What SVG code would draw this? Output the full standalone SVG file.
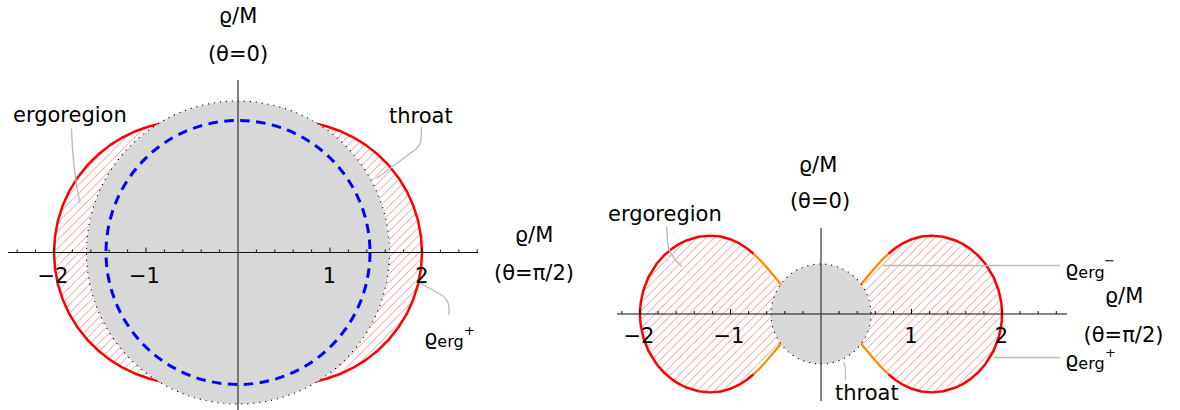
<svg xmlns="http://www.w3.org/2000/svg" width="1180" height="410" viewBox="0 0 1180 410">
<defs>
<pattern id="hatch" patternUnits="userSpaceOnUse" width="8.5" height="8.5">
<path d="M-1,1 L1,-1 M0,8.5 L8.5,0 M7.5,9.5 L9.5,7.5" stroke="#ee7878" stroke-width="0.8" fill="none"/>
</pattern>
<style>
.lbl{font-family:"DejaVu Sans","Liberation Sans",sans-serif;font-size:21px;fill:#000}
.mid{text-anchor:middle}
.sub{font-size:16px}
.sup{font-size:13px}
.axis{stroke:#111;stroke-width:1.2;fill:none}
.vaxis{stroke:#333;stroke-width:1.2;fill:none}
.tick{stroke:#111;stroke-width:1;fill:none}
.throat{fill:#d8d8d8}
.dots{fill:none;stroke:#000;stroke-width:1.3;stroke-linecap:round;stroke-dasharray:0 6}
.red{fill:none;stroke:#ff0000;stroke-width:2.5;stroke-linejoin:round}
.orange{fill:none;stroke:#ff8a00;stroke-width:2.2;stroke-linejoin:round}
.lead{fill:none;stroke:#b9b9b9;stroke-width:1.3}
</style>
</defs>
<rect width="1180" height="410" fill="#fff"/>

<g id="left-plot">
<path id="left-ergoregion" fill="url(#hatch)" stroke="none" d="M238,120.4 L249.57,120.26 L261.37,119.93 L273.58,119.72 L286.26,119.92 L299.37,120.89 L312.82,122.91 L326.42,126.22 L339.97,130.97 L353.24,137.26 L365.96,145.13 L377.91,154.53 L388.83,165.42 L398.49,177.66 L406.7,191.1 L413.29,205.53 L418.09,220.74 L421.01,236.49 L422,252.5 L421.01,268.51 L418.09,284.26 L413.29,299.47 L406.7,313.9 L398.49,327.34 L388.83,339.58 L377.91,350.47 L365.96,359.87 L353.24,367.74 L339.97,374.03 L326.42,378.78 L312.82,382.09 L299.37,384.11 L286.26,385.08 L273.58,385.28 L261.37,385.07 L249.57,384.74 L238,384.6 L226.43,384.74 L214.63,385.07 L202.42,385.28 L189.74,385.08 L176.63,384.11 L163.18,382.09 L149.58,378.78 L136.03,374.03 L122.76,367.74 L110.04,359.87 L98.09,350.47 L87.17,339.58 L77.51,327.34 L69.3,313.9 L62.71,299.47 L57.91,284.26 L54.99,268.51 L54,252.5 L54.99,236.49 L57.91,220.74 L62.71,205.53 L69.3,191.1 L77.51,177.66 L87.17,165.42 L98.09,154.53 L110.04,145.13 L122.76,137.26 L136.03,130.97 L149.58,126.22 L163.18,122.91 L176.63,120.89 L189.74,119.92 L202.42,119.72 L214.63,119.93 L226.43,120.26 Z"/>
<path class="red" d="M238,120.4 L249.57,120.26 L261.37,119.93 L273.58,119.72 L286.26,119.92 L299.37,120.89 L312.82,122.91 L326.42,126.22 L339.97,130.97 L353.24,137.26 L365.96,145.13 L377.91,154.53 L388.83,165.42 L398.49,177.66 L406.7,191.1 L413.29,205.53 L418.09,220.74 L421.01,236.49 L422,252.5 L421.01,268.51 L418.09,284.26 L413.29,299.47 L406.7,313.9 L398.49,327.34 L388.83,339.58 L377.91,350.47 L365.96,359.87 L353.24,367.74 L339.97,374.03 L326.42,378.78 L312.82,382.09 L299.37,384.11 L286.26,385.08 L273.58,385.28 L261.37,385.07 L249.57,384.74 L238,384.6 L226.43,384.74 L214.63,385.07 L202.42,385.28 L189.74,385.08 L176.63,384.11 L163.18,382.09 L149.58,378.78 L136.03,374.03 L122.76,367.74 L110.04,359.87 L98.09,350.47 L87.17,339.58 L77.51,327.34 L69.3,313.9 L62.71,299.47 L57.91,284.26 L54.99,268.51 L54,252.5 L54.99,236.49 L57.91,220.74 L62.71,205.53 L69.3,191.1 L77.51,177.66 L87.17,165.42 L98.09,154.53 L110.04,145.13 L122.76,137.26 L136.03,130.97 L149.58,126.22 L163.18,122.91 L176.63,120.89 L189.74,119.92 L202.42,119.72 L214.63,119.93 L226.43,120.26 Z"/>
<circle id="left-throat" class="throat" cx="238" cy="252.5" r="151.5"/>
<circle class="dots" cx="238" cy="252.5" r="151.5"/>
<circle id="left-horizon" cx="238" cy="252.5" r="132" fill="none" stroke="#0000ff" stroke-width="3" stroke-dasharray="9.5 6.5"/>
<line class="axis" x1="8" y1="252.5" x2="478" y2="252.5"/>
<line class="vaxis" x1="238" y1="80" x2="238" y2="410"/>
<path class="tick" d="M17.2,252.5v-3 M35.6,252.5v-3 M54,252.5v-5 M72.4,252.5v-3 M90.8,252.5v-3 M109.2,252.5v-3 M127.6,252.5v-3 M146,252.5v-5 M164.4,252.5v-3 M182.8,252.5v-3 M201.2,252.5v-3 M219.6,252.5v-3 M256.4,252.5v-3 M274.8,252.5v-3 M293.2,252.5v-3 M311.6,252.5v-3 M330,252.5v-5 M348.4,252.5v-3 M366.8,252.5v-3 M385.2,252.5v-3 M403.6,252.5v-3 M422,252.5v-5 M440.4,252.5v-3 M458.8,252.5v-3 M477.2,252.5v-3"/>
<text class="lbl mid" x="53" y="282.5">−2</text>
<text class="lbl mid" x="144.5" y="282.5">−1</text>
<text class="lbl mid" x="329.5" y="282.5">1</text>
<text class="lbl mid" x="422" y="282.5">2</text>
<text class="lbl mid" x="238" y="23">ϱ/M</text>
<text class="lbl mid" x="238" y="60.5">(θ=0)</text>
<text class="lbl mid" x="534" y="242">ϱ/M</text>
<text class="lbl mid" x="534" y="280">(θ=π/2)</text>
<text class="lbl" x="13" y="121.5">ergoregion</text>
<text class="lbl" x="389" y="123">throat</text>
<text class="lbl" x="424" y="345">ϱ<tspan class="sub" dy="2">erg</tspan><tspan class="sup" x="464" y="334.5">+</tspan></text>
</g>

<g id="right-plot">
<path id="right-lobe-fill" fill="url(#hatch)" stroke="none" d="M821,314 L829.66,311.37 L837.59,306.76 L844.88,301.07 L851.62,294.69 L857.95,287.87 L863.98,280.82 L869.89,273.71 L875.82,266.71 L881.95,259.97 L888.46,253.67 L895.5,247.97 L903.23,243.06 L911.79,239.18 L921.3,236.58 L931.84,235.62 L943.49,236.77 L956.3,240.75 L963.14,244.16 L970.3,248.84 L977.76,255.2 L985.53,264.03 L993.61,277.26 L998.61,290.23 L1001.15,301.98 L1001.83,308.61 L1002,314 L1001.83,319.39 L1001.15,326.02 L998.61,337.77 L993.61,350.74 L985.53,363.97 L977.76,372.8 L970.3,379.16 L963.14,383.84 L956.3,387.25 L943.49,391.23 L931.84,392.38 L921.3,391.42 L911.79,388.82 L903.23,384.94 L895.5,380.03 L888.46,374.33 L881.95,368.03 L875.82,361.29 L869.89,354.29 L863.98,347.18 L857.95,340.13 L851.62,333.31 L844.88,326.93 L837.59,321.24 L829.66,316.63 Z"/>
<path id="left-lobe-fill" fill="url(#hatch)" stroke="none" d="M821,314 L812.34,311.37 L804.41,306.76 L797.12,301.07 L790.38,294.69 L784.05,287.87 L778.02,280.82 L772.11,273.71 L766.18,266.71 L760.05,259.97 L753.54,253.67 L746.5,247.97 L738.77,243.06 L730.21,239.18 L720.7,236.58 L710.16,235.62 L698.51,236.77 L685.7,240.75 L678.86,244.16 L671.7,248.84 L664.24,255.2 L656.47,264.03 L648.39,277.26 L643.39,290.23 L640.85,301.98 L640.17,308.61 L640,314 L640.17,319.39 L640.85,326.02 L643.39,337.77 L648.39,350.74 L656.47,363.97 L664.24,372.8 L671.7,379.16 L678.86,383.84 L685.7,387.25 L698.51,391.23 L710.16,392.38 L720.7,391.42 L730.21,388.82 L738.77,384.94 L746.5,380.03 L753.54,374.33 L760.05,368.03 L766.18,361.29 L772.11,354.29 L778.02,347.18 L784.05,340.13 L790.38,333.31 L797.12,326.93 L804.41,321.24 L812.34,316.63 Z"/>
<path class="orange" d="M888.46,253.67 L881.95,259.97 L875.82,266.71 L869.89,273.71 L863.98,280.82 L857.95,287.87 L851.62,294.69 L844.88,301.07 M888.46,374.33 L881.95,368.03 L875.82,361.29 L869.89,354.29 L863.98,347.18 L857.95,340.13 L851.62,333.31 L844.88,326.93 M753.54,253.67 L760.05,259.97 L766.18,266.71 L772.11,273.71 L778.02,280.82 L784.05,287.87 L790.38,294.69 L797.12,301.07 M753.54,374.33 L760.05,368.03 L766.18,361.29 L772.11,354.29 L778.02,347.18 L784.05,340.13 L790.38,333.31 L797.12,326.93"/>
<path class="red" d="M888.46,253.67 L895.5,247.97 L903.23,243.06 L911.79,239.18 L921.3,236.58 L931.84,235.62 L943.49,236.77 L956.3,240.75 L963.14,244.16 L970.3,248.84 L977.76,255.2 L985.53,264.03 L993.61,277.26 L998.61,290.23 L1001.15,301.98 L1001.83,308.61 L1002,314 L1001.83,319.39 L1001.15,326.02 L998.61,337.77 L993.61,350.74 L985.53,363.97 L977.76,372.8 L970.3,379.16 L963.14,383.84 L956.3,387.25 L943.49,391.23 L931.84,392.38 L921.3,391.42 L911.79,388.82 L903.23,384.94 L895.5,380.03 L888.46,374.33 M753.54,253.67 L746.5,247.97 L738.77,243.06 L730.21,239.18 L720.7,236.58 L710.16,235.62 L698.51,236.77 L685.7,240.75 L678.86,244.16 L671.7,248.84 L664.24,255.2 L656.47,264.03 L648.39,277.26 L643.39,290.23 L640.85,301.98 L640.17,308.61 L640,314 L640.17,319.39 L640.85,326.02 L643.39,337.77 L648.39,350.74 L656.47,363.97 L664.24,372.8 L671.7,379.16 L678.86,383.84 L685.7,387.25 L698.51,391.23 L710.16,392.38 L720.7,391.42 L730.21,388.82 L738.77,384.94 L746.5,380.03 L753.54,374.33"/>
<circle id="right-throat" class="throat" cx="821" cy="314" r="50"/>
<circle class="dots" cx="821" cy="314" r="50"/>
<line class="axis" x1="617" y1="314" x2="1067" y2="314"/>
<line class="vaxis" x1="821" y1="228" x2="821" y2="401"/>
<path class="tick" d="M621.9,314v-3 M640,314v-5 M658.1,314v-3 M676.2,314v-3 M694.3,314v-3 M712.4,314v-3 M730.5,314v-5 M748.6,314v-3 M766.7,314v-3 M784.8,314v-3 M802.9,314v-3 M839.1,314v-3 M857.2,314v-3 M875.3,314v-3 M893.4,314v-3 M911.5,314v-5 M929.6,314v-3 M947.7,314v-3 M965.8,314v-3 M983.9,314v-3 M1002,314v-5 M1020.1,314v-3 M1038.2,314v-3 M1056.3,314v-3"/>
<text class="lbl mid" x="639" y="343">−2</text>
<text class="lbl mid" x="729" y="343">−1</text>
<text class="lbl mid" x="911" y="343">1</text>
<text class="lbl mid" x="1001.5" y="343">2</text>
<text class="lbl mid" x="818" y="171.5">ϱ/M</text>
<text class="lbl mid" x="820" y="207.5">(θ=0)</text>
<text class="lbl mid" x="1124" y="303">ϱ/M</text>
<text class="lbl mid" x="1123.5" y="341.5">(θ=π/2)</text>
<text class="lbl" x="608" y="220.5">ergoregion</text>
<text class="lbl" x="835" y="400">throat</text>
<text class="lbl" x="1065" y="276">ϱ<tspan class="sub" dy="2">erg</tspan><tspan class="sup" x="1104" y="265">−</tspan></text>
<text class="lbl" x="1065" y="367">ϱ<tspan class="sub" dy="2">erg</tspan><tspan class="sup" x="1105" y="357">+</tspan></text>
</g>

<g id="connectors">
<path class="lead" d="M71.5,128 C72,150 74,175 80,203"/>
<path class="lead" d="M421.5,127 L421,140 Q420,147 412,152 L377,178"/>
<path class="lead" d="M420,283 L440,294 Q449,299 449,308 L449,315"/>
<path class="lead" d="M666.5,227 L668,246 Q670,255 681.5,266.5"/>
<path class="lead" d="M843.5,362 Q845.5,366 845.5,372 L845.5,380"/>
<path class="lead" d="M883,265.5 L1060,265.5"/>
<path class="lead" d="M994,357.5 L1060,357.5"/>
</g>
</svg>
